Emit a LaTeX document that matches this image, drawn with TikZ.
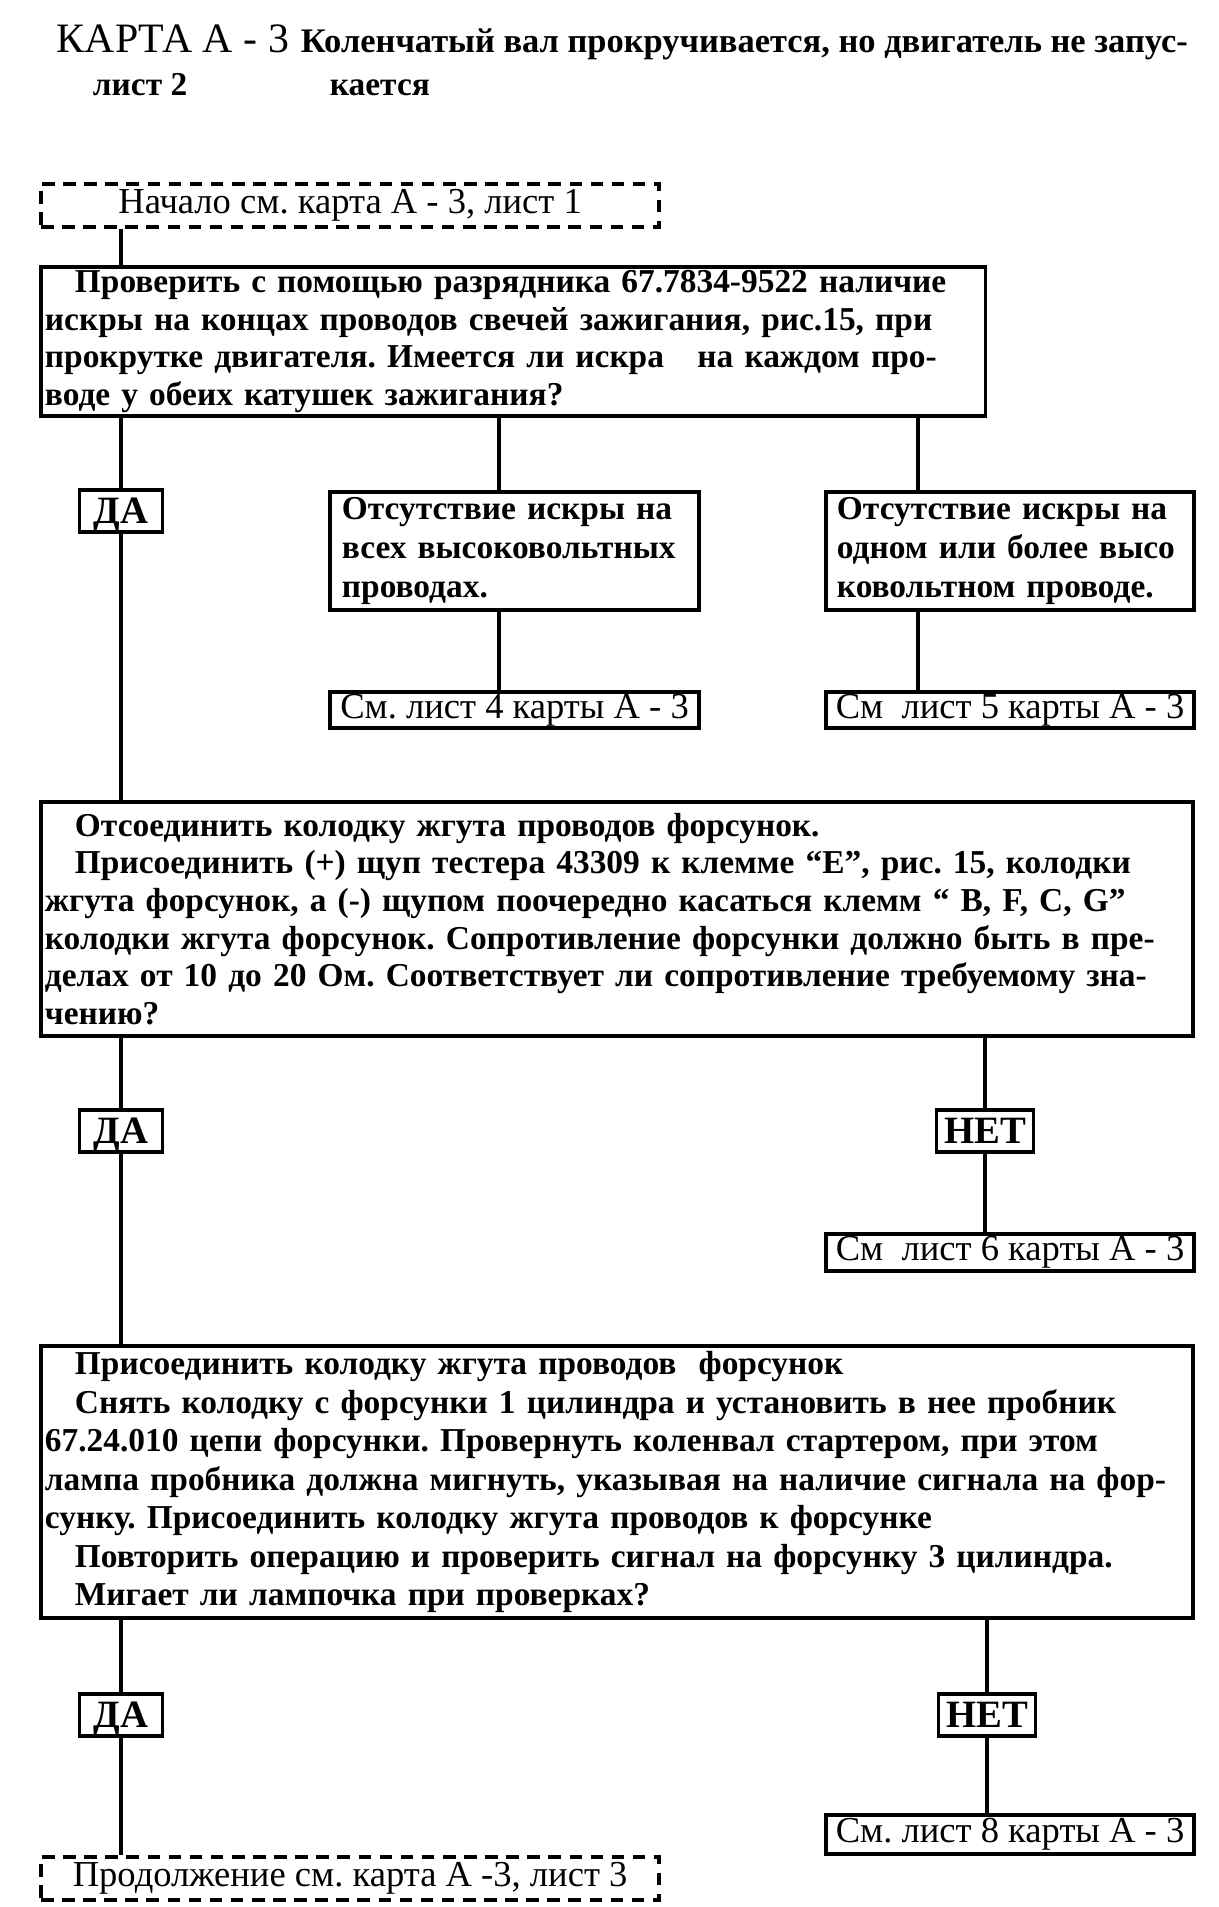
\documentclass[tikz,border=0pt]{standalone}
\usepackage{fontspec}
\setmainfont{Liberation Serif}
\usetikzlibrary{positioning}

\newcommand{\ind}{\hspace*{0.3cm}}

\begin{document}
\frenchspacing
\begin{tikzpicture}[
  x=0.01cm, y=-0.01cm,
  line width=1.1pt,
  body/.style   ={font=\fontsize{9.5}{10.73}\selectfont\bfseries},
  qbox/.style   ={rectangle, draw, anchor=north west, align=left, inner sep=0pt, body},
  refbox/.style ={rectangle, draw, anchor=north west, align=center, inner sep=0pt,
                  minimum width=3.68cm, font=\fontsize{10.4}{12}\selectfont},
  endbox/.style ={rectangle, draw, dash pattern=on 3.6pt off 2.4pt, anchor=north west,
                  inner sep=0pt, minimum width=6.18cm, minimum height=0.43cm,
                  font=\fontsize{10.4}{12}\selectfont},
  tag/.style    ={rectangle, draw, inner sep=0pt, minimum height=0.42cm, text depth=0pt,
                  font=\fontsize{11}{13}\selectfont\bfseries},
  head/.style   ={anchor=base west, inner sep=0pt},
]
\useasboundingbox (0,0) rectangle (1219,1907);

% --- Heading ---
\node[head, font=\fontsize{11.9}{14}\selectfont] (card) at (55,53) {КАРТА А - 3};
\node[head, font=\fontsize{9.8}{11}\selectfont\bfseries] (titl) at (299,53) {Коленчатый вал прокручивается, но двигатель не запус-};
\node[head, body] (sheet) at (91,96) {лист 2};
\node[head, body] (titl2) at (328,96) {кается};

% --- Entry ---
\node[endbox] (start) at (39,182) {Начало см. карта А - 3, лист 1};

% --- Spark check ---
\node[qbox, minimum width=9.44cm, text width=9.36cm, minimum height=1.49cm] (chk) at (39,265)
  {\ind Проверить с помощью разрядника 67.7834-9522 наличие\\
   искры на концах проводов свечей зажигания, рис.15, при\\
   прокрутке двигателя. Имеется ли искра\ \ \ на каждом про-\\
   воде у обеих катушек зажигания?};

\node[tag, minimum width=0.83cm] (da1) at (121,511) {ДА};
\node[qbox, minimum width=3.69cm, text width=3.45cm, minimum height=1.18cm,
      font=\fontsize{9.5}{11.2}\selectfont\bfseries] (nsall) at (328,490)
  {Отсутствие искры на\\всех высоковольтных\\проводах.};
\node[qbox, minimum width=3.68cm, text width=3.46cm, minimum height=1.18cm,
      font=\fontsize{9.5}{11.2}\selectfont\bfseries] (nsone) at (824,490)
  {Отсутствие искры на\\одном или более высо\\ковольтном проводе.};
\node[refbox, minimum width=3.69cm, minimum height=0.36cm] (ref4) at (328,690) {См. лист 4 карты А - 3};
\node[refbox, minimum height=0.36cm] (ref5) at (824,690) {См\ \ лист 5 карты А - 3};

% --- Injector resistance ---
\node[qbox, minimum width=11.51cm, text width=11.43cm, minimum height=2.34cm] (res) at (39,800)
  {\ind Отсоединить колодку жгута проводов форсунок.\\
   \ind Присоединить (+) щуп тестера 43309 к клемме “E”, рис. 15, колодки\\
   жгута форсунок, а (-) щупом поочередно касаться клемм “ B, F, C, G”\\
   колодки жгута форсунок. Сопротивление форсунки должно быть в пре-\\
   делах от 10 до 20 Ом. Соответствует ли сопротивление требуемому зна-\\
   чению?};

\node[tag, minimum width=0.83cm] (da2) at (121,1131) {ДА};
\node[tag, minimum width=0.97cm] (net2) at (985,1131) {НЕТ};
\node[refbox, minimum height=0.37cm] (ref6) at (824,1232) {См\ \ лист 6 карты А - 3};

% --- Injector signal ---
\node[qbox, minimum width=11.51cm, text width=11.43cm, minimum height=2.72cm,
      font=\fontsize{9.5}{10.95}\selectfont\bfseries] (sig) at (39,1344)
  {\ind Присоединить колодку жгута проводов\ \ форсунок\\
   \ind Снять колодку с форсунки 1 цилиндра и установить в нее пробник\\
   67.24.010 цепи форсунки. Провернуть коленвал стартером, при этом\\
   лампа пробника должна мигнуть, указывая на наличие сигнала на фор-\\
   сунку. Присоединить колодку жгута проводов к форсунке\\
   \ind Повторить операцию и проверить сигнал на форсунку 3 цилиндра.\\
   \ind Мигает ли лампочка при проверках?};

\node[tag, minimum width=0.83cm] (da3) at (121,1715) {ДА};
\node[tag, minimum width=0.97cm] (net3) at (987,1715) {НЕТ};
\node[refbox, minimum height=0.39cm] (ref8) at (824,1813) {См. лист 8 карты А - 3};
\node[endbox] (cont) at (39,1855) {Продолжение см. карта А -3, лист 3};

% --- Connectors ---
\coordinate (c4) at (499,0);
\coordinate (c5) at (918,0);
\draw (start.south -| da1) -- (chk.north -| da1);
\draw (chk.south -| da1) -- (da1.north);
\draw (da1.south) -- (res.north -| da1);
\draw (chk.south -| c4) -- (nsall.north -| c4);
\draw (nsall.south -| c4) -- (ref4.north -| c4);
\draw (chk.south -| c5) -- (nsone.north -| c5);
\draw (nsone.south -| c5) -- (ref5.north -| c5);
\draw (res.south -| da2) -- (da2.north);
\draw (da2.south) -- (sig.north -| da2);
\draw (res.south -| net2) -- (net2.north);
\draw (net2.south) -- (ref6.north -| net2);
\draw (sig.south -| da3) -- (da3.north);
\draw (da3.south) -- (cont.north -| da3);
\draw (sig.south -| net3) -- (net3.north);
\draw (net3.south) -- (ref8.north -| net3);
\end{tikzpicture}
\end{document}
